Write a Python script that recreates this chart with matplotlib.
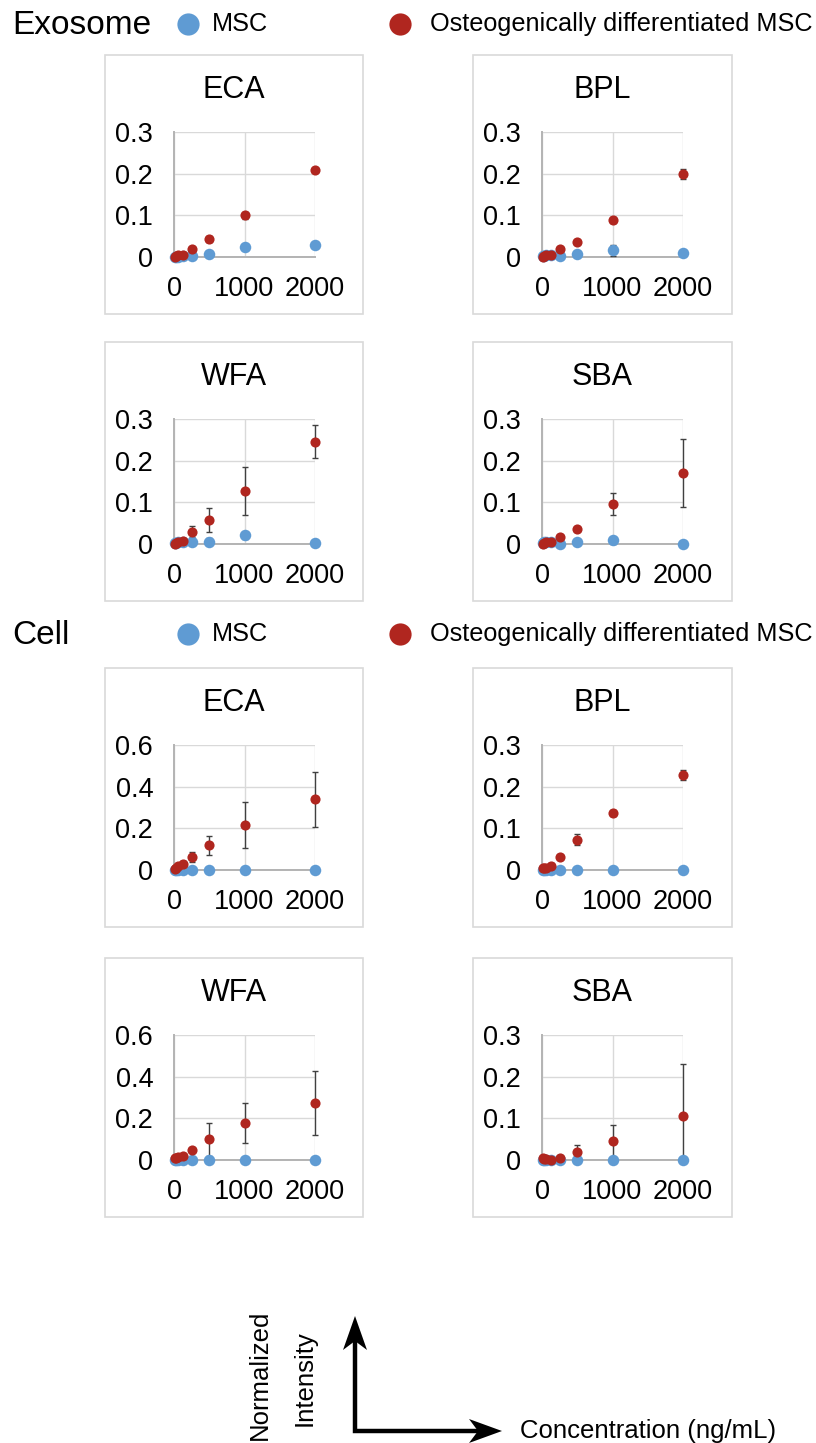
import matplotlib
matplotlib.use("Agg")
import matplotlib.pyplot as plt
import numpy as np

plt.rcParams['font.family'] = ['Liberation Sans', 'DejaVu Sans']

# ---------------- data ----------------
conc = [15.6, 31.25, 62.5, 125, 250, 500, 1000, 2000]
lectins = ["ECA", "BPL", "WFA", "SBA"]
series_labels = ["MSC", "Osteogenically differentiated MSC"]

# Exosome
exo_eca_msc = [0.001, 0.001, 0.001, 0.002, 0.003, 0.007, 0.024, 0.030]
exo_eca_msc_err = [0.001, 0.001, 0.001, 0.001, 0.002, 0.003, 0.008, 0.002]
exo_eca_ost = [0.001, 0.002, 0.004, 0.006, 0.019, 0.043, 0.100, 0.210]
exo_eca_ost_err = [0.001, 0.001, 0.001, 0.002, 0.006, 0.007, 0.008, 0.003]

exo_bpl_msc = [0.003, 0.003, 0.004, 0.004, 0.003, 0.007, 0.016, 0.010]
exo_bpl_msc_err = [0.002, 0.002, 0.002, 0.002, 0.002, 0.005, 0.014, 0.003]
exo_bpl_ost = [0.000, 0.002, 0.004, 0.006, 0.019, 0.035, 0.088, 0.200]
exo_bpl_ost_err = [0.001, 0.001, 0.001, 0.002, 0.003, 0.004, 0.007, 0.012]

exo_wfa_msc = [0.003, 0.003, 0.004, 0.004, 0.005, 0.006, 0.021, 0.003]
exo_wfa_msc_err = [0.005, 0.005, 0.008, 0.008, 0.006, 0.008, 0.008, 0.002]
exo_wfa_ost = [0.000, 0.002, 0.004, 0.007, 0.030, 0.057, 0.127, 0.246]
exo_wfa_ost_err = [0.001, 0.001, 0.002, 0.003, 0.014, 0.029, 0.058, 0.039]

exo_sba_msc = [0.003, 0.004, 0.005, 0.005, 0.001, 0.005, 0.009, 0.000]
exo_sba_msc_err = [0.002, 0.002, 0.002, 0.002, 0.002, 0.003, 0.009, 0.001]
exo_sba_ost = [0.000, 0.002, 0.004, 0.006, 0.018, 0.037, 0.096, 0.171]
exo_sba_ost_err = [0.001, 0.001, 0.001, 0.002, 0.003, 0.004, 0.027, 0.081]

# Cell
cell_msc = [0.0, 0.0, 0.0, 0.0, 0.0, 0.0, 0.0, 0.0]
cell_msc_err = [0.0, 0.0, 0.0, 0.0, 0.0, 0.0, 0.0, 0.0]
cell_eca_ost = [0.006, 0.011, 0.019, 0.027, 0.062, 0.118, 0.218, 0.339]
cell_eca_ost_err = [0.003, 0.005, 0.008, 0.015, 0.025, 0.045, 0.110, 0.133]
cell_bpl_ost = [0.005, 0.006, 0.006, 0.009, 0.032, 0.073, 0.137, 0.228]
cell_bpl_ost_err = [0.002, 0.002, 0.003, 0.008, 0.004, 0.013, 0.007, 0.012]
cell_wfa_ost = [0.008, 0.010, 0.014, 0.021, 0.046, 0.100, 0.178, 0.274]
cell_wfa_ost_err = [0.002, 0.003, 0.004, 0.006, 0.008, 0.080, 0.096, 0.153]
cell_sba_ost = [0.005, 0.003, 0.002, 0.000, 0.006, 0.019, 0.045, 0.106]
cell_sba_ost_err = [0.002, 0.002, 0.002, 0.002, 0.003, 0.018, 0.040, 0.124]

yticks_03 = [0, 0.1, 0.2, 0.3]
yticks_06 = [0, 0.2, 0.4, 0.6]
xticks = [0, 1000, 2000]

panels = [
    # (title, msc, msc_err, ost, ost_err, yticks)
    ("ECA", exo_eca_msc, exo_eca_msc_err, exo_eca_ost, exo_eca_ost_err, yticks_03),
    ("BPL", exo_bpl_msc, exo_bpl_msc_err, exo_bpl_ost, exo_bpl_ost_err, yticks_03),
    ("WFA", exo_wfa_msc, exo_wfa_msc_err, exo_wfa_ost, exo_wfa_ost_err, yticks_03),
    ("SBA", exo_sba_msc, exo_sba_msc_err, exo_sba_ost, exo_sba_ost_err, yticks_03),
    ("ECA", cell_msc, cell_msc_err, cell_eca_ost, cell_eca_ost_err, yticks_06),
    ("BPL", cell_msc, cell_msc_err, cell_bpl_ost, cell_bpl_ost_err, yticks_03),
    ("WFA", cell_msc, cell_msc_err, cell_wfa_ost, cell_wfa_ost_err, yticks_06),
    ("SBA", cell_msc, cell_msc_err, cell_sba_ost, cell_sba_ost_err, yticks_03),
]

BLUE = "#5f9bd3"
RED = "#b0261f"
ERR = "#404040"
GRID = "#d9d9d9"
SPINE = "#b3b3b3"

W, H = 816, 1443
fig = plt.figure(figsize=(W / 100, H / 100), dpi=100)

# background overlay in pixel coordinates
bg = fig.add_axes([0, 0, 1, 1])
bg.set_xlim(0, W)
bg.set_ylim(H, 0)
bg.axis("off")

box_left = [105, 473]
box_w = [258, 259]
box_top = [55, 342, 668, 958]
box_h = 259
ax_left = [174, 542]
ax_top = [132, 419, 745, 1035]
ax_w, ax_h = 141, 125

for i, (title, msc, msce, ost, oste, yt) in enumerate(panels):
    r, c = divmod(i, 2)
    bx, by = box_left[c], box_top[r]
    bg.add_patch(plt.Rectangle((bx, by), box_w[c], box_h, fill=False,
                               edgecolor=GRID, lw=1.2))
    bg.text(bx + box_w[c] / 2, by + 35, title, ha="center", va="center",
            fontsize=22)
    ax = fig.add_axes([ax_left[c] / W, 1 - (ax_top[r] + ax_h) / H,
                       ax_w / W, ax_h / H])
    ax.set_facecolor("none")
    ax.set_xlim(0, 2000)
    ax.set_ylim(0, yt[-1])
    ax.set_xticks(xticks)
    ax.set_yticks(yt)
    ax.set_yticklabels([f"{v:g}" for v in yt])
    ax.tick_params(length=0, labelsize=19.5)
    ax.tick_params(axis="x", pad=14)
    ax.tick_params(axis="y", pad=15)
    ax.grid(True, color=GRID, lw=1.0)
    ax.set_axisbelow(True)
    for s in ["top", "right"]:
        ax.spines[s].set_visible(False)
    for s in ["left", "bottom"]:
        ax.spines[s].set_color(SPINE)
        ax.spines[s].set_linewidth(1.4)
        ax.spines[s].set_zorder(1.5)
    for vals, errs, col, ms in [(msc, msce, BLUE, 8.3), (ost, oste, RED, 7.3)]:
        lower = [min(e, v) for v, e in zip(vals, errs)]
        eb = ax.errorbar(conc, vals, yerr=[lower, errs], fmt="none", ecolor=ERR,
                         elinewidth=1.0, capsize=2.5, capthick=1.0, zorder=3)
        for art in eb.lines[1] + eb.lines[2]:
            art.set_clip_on(False)
        ax.plot(conc, vals, "o", color=col, ms=ms, mec="none", zorder=4,
                clip_on=False)

# headers and legends
for ytxt, label in [(25, "Exosome"), (635, "Cell")]:
    bg.text(12, ytxt, label, ha="left", va="center", fontsize=24)
    bg.plot([188], [ytxt - 1], "o", color=BLUE, ms=16, mec="none")
    bg.text(212, ytxt - 1, series_labels[0], ha="left", va="center", fontsize=18.2)
    bg.plot([400], [ytxt - 1], "o", color=RED, ms=16, mec="none")
    bg.text(430, ytxt - 1, series_labels[1], ha="left", va="center", fontsize=18.2)

# axis legend arrows
yl = 1431
xl = 355
bg.plot([xl, xl, 480], [1340, yl, yl], color="black", lw=3.2,
        solid_joinstyle="miter", solid_capstyle="butt")
bg.fill([xl, xl - 12, xl, xl + 12], [1316, 1350, 1341, 1350], color="black", lw=0)
bg.fill([502, 469, 478, 469], [yl, yl - 12, yl, yl + 12], color="black", lw=0)
bg.text(260, 1375, "Normalized", rotation=90, ha="center", va="center", fontsize=18.5)
bg.text(305, 1378, "Intensity", rotation=90, ha="center", va="center", fontsize=18.5)
bg.text(520, yl, "Concentration (ng/mL)", ha="left", va="center", fontsize=18.5)

fig.savefig("out.png", dpi=100)
